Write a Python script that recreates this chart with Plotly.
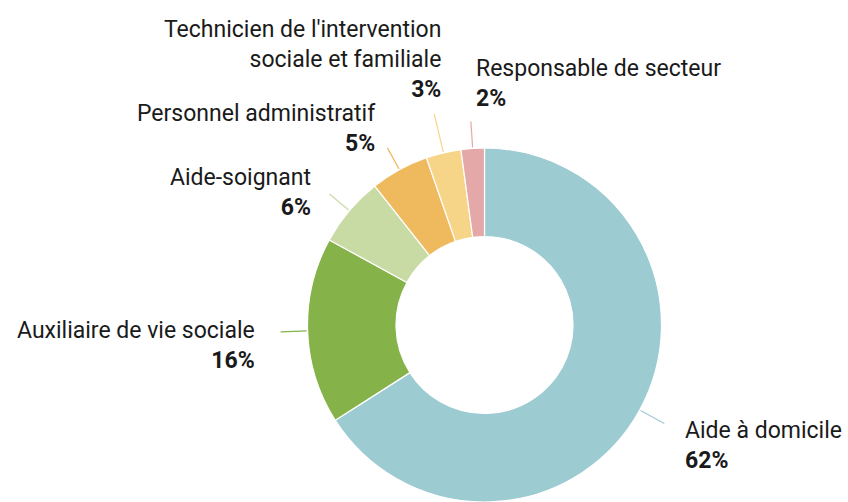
import math
import plotly.graph_objects as go

# ---- data ----
categories = [
    "Aide à domicile",
    "Auxiliaire de vie sociale",
    "Aide-soignant",
    "Personnel administratif",
    "Technicien de l'intervention<br>sociale et familiale",
    "Responsable de secteur",
]
values = [62, 16, 6, 5, 3, 2]
pct_labels = ["62%", "16%", "6%", "5%", "3%", "2%"]

# ---- style ----
colors = ["#9DCBD2", "#86B24A", "#C9DBA5", "#EFB95E", "#F6D588", "#E5A8A8"]
W, H = 848, 502
CX, CY, R = 484.5, 325.0, 177.0
leader_len = [28, 27, 26, 25, 40, 27]
# label block anchor (px), side: 'left' means text starts at x, 'right' means ends at x
label_pos = [
    (683, 445, "left"),
    (257, 345, "right"),
    (313, 192, "right"),
    (378, 128, "right"),
    (443, 59, "right"),
    (474, 84, "left"),
]
FONT = "Roboto"
TXT = "#1a1a1a"

fig = go.Figure(
    go.Pie(
        labels=categories,
        values=values,
        hole=0.5,
        sort=False,
        direction="clockwise",
        rotation=0,
        marker=dict(colors=colors, line=dict(color="white", width=1.2)),
        textinfo="none",
        hoverinfo="skip",
        showlegend=False,
        domain=dict(x=[CX / W - 0.27, CX / W + 0.27], y=[0, 2 * R / H]),
    )
)

def px(x):
    return x / W

def py(y):
    return 1 - y / H

total = sum(values)
cum = 0.0
shapes = []
annotations = []
for i, v in enumerate(values):
    mid = (cum + v / 2) / total * 2 * math.pi
    cum += v
    dx, dy = math.sin(mid), -math.cos(mid)
    x0, y0 = CX + dx * (R + 1), CY + dy * (R + 1)
    x1, y1 = CX + dx * (R + leader_len[i]), CY + dy * (R + leader_len[i])
    shapes.append(dict(type="line", xref="paper", yref="paper",
                       x0=px(x0), y0=py(y0), x1=px(x1), y1=py(y1),
                       line=dict(color=colors[i], width=1.2)))
    lx, ly, side = label_pos[i]
    annotations.append(dict(
        xref="paper", yref="paper", x=px(lx), y=py(ly),
        xanchor=side, yanchor="middle", align=side, showarrow=False,
        text=f"{categories[i]}<br><b>{pct_labels[i]}</b>",
        font=dict(family=FONT, size=23, color=TXT),
    ))

fig.update_layout(
    width=W, height=H,
    margin=dict(l=0, r=0, t=0, b=0),
    paper_bgcolor="white", plot_bgcolor="white",
    shapes=shapes, annotations=annotations,
)
fig.write_html(
    "out.html",
    config={"displayModeBar": False},
    post_script="document.body.style.margin='0';document.body.style.overflow='hidden';",
)
